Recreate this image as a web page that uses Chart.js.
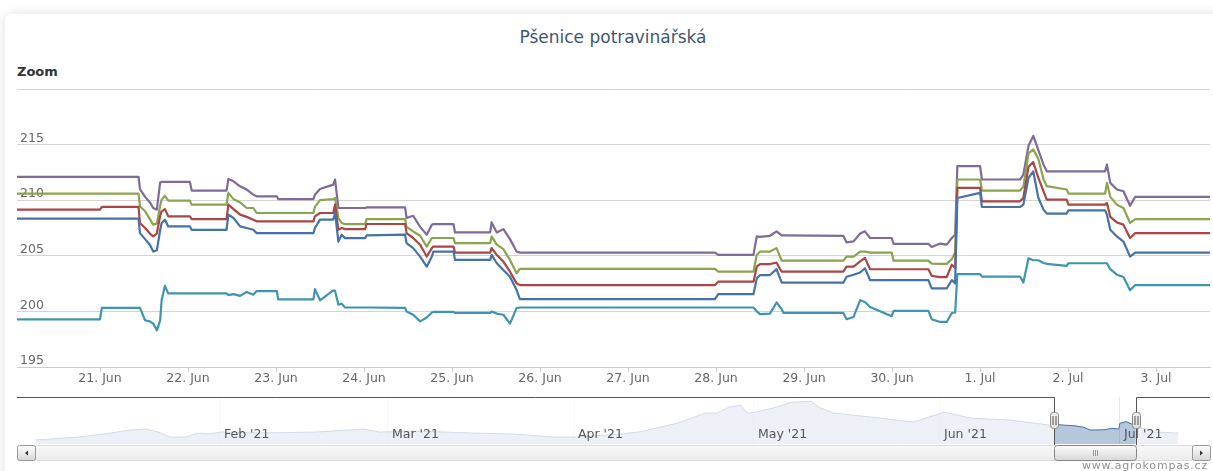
<!DOCTYPE html>
<html lang="cs">
<head>
<meta charset="utf-8">
<title>Pšenice potravinářská</title>
<script src="https://cdn.jsdelivr.net/npm/chart.js@4.4.1/dist/chart.umd.min.js"></script>
<style>
  html, body { margin: 0; padding: 0; }
  body { width: 1213px; height: 471px; overflow: hidden; background: #fff; position: relative; font-family: "DejaVu Sans", sans-serif; }
  .card { position: absolute; left: 5px; top: 14px; width: 1240px; height: 500px; background: #fff; border-radius: 6px; box-shadow: 0 0 12px rgba(0,0,0,0.13); }
  .title { position: absolute; left: 0; top: 27px; width: 1226px; text-align: center; font-size: 17px; line-height: 20px; color: #3E576F; }
  .zoom-label { position: absolute; left: 17px; top: 64px; font-size: 13px; font-weight: bold; color: #333; }
  canvas { position: absolute; left: 0; }
  #mainChart { top: 0; }
  #navChart { top: 390px; }
  .credits { position: absolute; right: 5px; top: 459px; font-size: 11px; letter-spacing: .8px; color: #909090; }
</style>
</head>
<body>
<div class="card"></div>
<div class="title">Pšenice potravinářská</div>
<div class="zoom-label">Zoom</div>
<canvas id="mainChart" width="1213" height="395"></canvas>
<canvas id="navChart" width="1213" height="81"></canvas>
<div class="credits">www.agrokompas.cz</div>

<script>
// ── DATA ────────────────────────────────────────────────────────────────────
// hours counted from 20. Jun 2021 00:00
const hours = [1.3, 24.0, 24.5, 34.5, 34.9, 36.3, 37.6, 38.5, 39.5, 40.4,
  40.8, 41.7, 42.6, 48.5, 49.0, 58.5, 59.0, 60.4, 62.2, 64.0,
  65.8, 66.7, 72.2, 72.6, 82.2, 82.6, 84.0, 87.6, 88.1, 89.0,
  89.9, 90.8, 96.3, 96.7, 107.2, 107.6, 109.4, 111.3, 113.1, 114.5,
  114.9, 120.4, 120.8, 130.4, 130.8, 132.2, 134.0, 135.8, 137.6, 138.5,
  191.7, 192.6, 202.2, 203.1, 204.0, 206.7, 208.5, 209.9, 210.4, 226.7,
  227.6, 229.5, 231.3, 232.6, 234.0, 239.9, 240.4, 249.9, 250.8, 253.1,
  254.9, 256.3, 257.2, 257.8, 264.0, 264.5, 274.9, 275.8, 277.2, 278.5,
  279.9, 281.3, 282.2, 287.6, 288.1, 298.1, 298.6, 299.5, 301.3, 303.1,
  304.9, 306.3, 326.7];

const priceBlue = [208.34, 208.34, 208.34, 208.34, 207.04, 206.5, 205.99, 205.38, 205.5, 207.3,
  207.95, 208.25, 207.64, 207.64, 207.34, 207.34, 208.7, 208.4, 207.64, 207.5,
  207.34, 207.04, 207.04, 207.04, 207.04, 207.5, 208.25, 208.25, 208.85, 206.28,
  206.9, 206.59, 206.59, 206.83, 206.9, 206.14, 205.69, 204.93, 204.02, 204.93,
  205.38, 205.38, 204.63, 204.63, 205.08, 204.33, 203.73, 203.12, 201.92, 201.1,
  201.1, 201.55, 201.55, 202.97, 203.27, 203.27, 203.8, 202.58, 202.58, 202.58,
  203.12, 203.3, 203.5, 203.88, 202.82, 202.82, 202.82, 202.82, 202.07, 202.07,
  202.07, 202.82, 202.52, 210.2, 210.66, 209.39, 209.39, 209.6, 212.0, 212.6,
  210.2, 209.15, 208.79, 208.79, 209.09, 209.09, 208.7, 207.34, 206.74, 206.28,
  204.93, 205.29, 205.29];

const priceRed = [209.15, 209.15, 209.4, 209.4, 207.95, 207.5, 207.0, 206.74, 207.0, 208.6,
  209.0, 209.2, 208.55, 208.55, 208.3, 208.3, 209.6, 209.2, 208.7, 208.5,
  208.25, 208.1, 208.1, 208.1, 208.1, 208.55, 208.85, 208.85, 209.6, 207.34,
  207.5, 207.4, 207.4, 207.86, 207.86, 207.04, 206.6, 205.99, 204.93, 205.69,
  205.83, 205.83, 205.29, 205.29, 205.69, 205.08, 204.48, 203.57, 202.52, 202.37,
  202.37, 202.67, 202.67, 204.02, 204.26, 204.26, 204.38, 203.57, 203.57, 203.57,
  204.02, 204.02, 204.5, 204.8, 203.79, 203.79, 203.79, 203.79, 203.2, 203.09,
  203.09, 204.2, 203.9, 211.1, 211.1, 209.9, 209.9, 210.2, 213.0, 213.43,
  212.0, 210.8, 210.05, 210.05, 209.6, 209.6, 209.75, 208.5, 208.0, 207.8,
  206.6, 207.04, 207.04];

const priceGreen = [210.6, 210.6, 210.6, 210.6, 209.45, 209.0, 208.3, 207.8, 207.9, 209.5,
  210.05, 210.4, 209.96, 209.96, 209.6, 209.6, 210.66, 210.1, 209.8, 209.3,
  209.3, 208.85, 208.85, 208.85, 208.85, 209.4, 210.0, 210.1, 210.2, 208.4,
  207.95, 207.85, 207.85, 208.3, 208.3, 207.6, 207.19, 206.8, 205.83, 206.6,
  206.6, 206.6, 206.14, 206.14, 206.74, 206.0, 205.6, 204.63, 203.43, 203.82,
  203.82, 203.57, 203.57, 205.08, 205.38, 205.38, 205.69, 204.56, 204.56, 204.56,
  204.93, 204.93, 205.38, 205.38, 205.29, 205.29, 204.56, 204.56, 204.3, 204.27,
  204.27, 204.7, 205.3, 211.86, 211.86, 210.87, 210.87, 211.2, 214.2, 214.57,
  213.7, 211.86, 211.26, 210.96, 210.6, 210.6, 211.56, 210.3, 209.6, 209.3,
  207.95, 208.3, 208.3];

const pricePurple = [212.1, 212.1, 212.1, 212.1, 211.0, 210.3, 209.8, 209.3, 209.15, 211.6,
  211.65, 211.65, 211.65, 211.65, 210.87, 210.87, 211.9, 211.7, 211.25, 210.96,
  210.5, 210.35, 210.35, 210.1, 210.1, 210.5, 211.0, 211.4, 211.86, 209.3,
  209.3, 209.3, 209.3, 209.35, 209.35, 208.4, 208.6, 207.6, 206.9, 207.8,
  207.85, 207.85, 207.1, 207.1, 208.0, 207.1, 207.4, 206.5, 205.38, 205.29,
  205.29, 205.08, 205.08, 206.74, 206.7, 206.8, 207.19, 206.83, 206.83, 206.8,
  206.2, 206.3, 207.0, 207.2, 206.6, 206.6, 206.08, 206.08, 205.8, 206.1,
  206.0, 206.6, 206.9, 213.07, 213.07, 211.86, 211.86, 212.3, 214.9, 215.78,
  214.5, 213.2, 212.6, 212.6, 212.6, 212.6, 213.2, 211.56, 210.96, 210.8,
  209.5, 210.3, 210.3];

const priceTeal = [199.29, 199.29, 200.32, 200.32, 200.32, 199.2, 199.1, 198.9, 198.3, 199.2,
  201.0, 202.3, 201.62, 201.62, 201.62, 201.62, 201.47, 201.55, 201.4, 201.75,
  201.5, 201.83, 201.83, 201.08, 201.08, 202.0, 201.0, 201.9, 201.85, 200.6,
  200.7, 200.35, 200.35, 200.35, 200.32, 200.0, 199.7, 199.1, 199.45, 199.9,
  199.95, 199.95, 199.86, 199.86, 200.0, 199.8, 199.7, 198.9, 200.3, 200.35,
  200.35, 200.35, 200.35, 200.0, 199.75, 199.8, 200.8, 200.2, 199.86, 199.86,
  199.3, 199.5, 201.01, 200.85, 200.4, 199.57, 200.05, 200.05, 199.3, 199.05,
  199.05, 199.86, 199.9, 203.36, 203.36, 203.12, 203.12, 202.6, 204.78, 204.6,
  204.6, 204.35, 204.27, 204.1, 204.33, 204.33, 204.33, 203.8, 203.3, 203.1,
  201.9, 202.37, 202.37];

const dayTickHours  = [24, 48, 72, 96, 120, 144, 168, 192, 216, 240, 264, 288, 312];
const dayTickLabels = ['21. Jun', '22. Jun', '23. Jun', '24. Jun', '25. Jun', '26. Jun', '27. Jun',
                       '28. Jun', '29. Jun', '30. Jun', '1. Jul', '2. Jul', '3. Jul'];
const priceTicks = [195, 200, 205, 210, 215, 220];

// navigator: days counted from 1. Jan 2021
const navDays = [0.3, 7.5, 12.8, 16.0, 18.7, 20.7, 22.7, 25.3, 27.3, 29.2,
  31.2, 37.2, 47.0, 55.0, 57.5, 63.5, 73.3, 80.0, 86.5, 90.5,
  97.7, 100.8, 107.3, 111.8, 113.8, 115.8, 117.8, 119.0, 120.3, 123.7,
  126.2, 129.5, 130.8, 133.3, 139.8, 146.5, 151.7, 156.2, 162.7, 169.2,
  170.5, 172.0, 173.5, 175.0, 176.0, 178.5, 179.5, 180.8, 181.0, 182.0,
  183.0, 183.6, 184.5, 186.8, 190.7];
const navPrices = [188.2, 192.0, 197.2, 201.1, 202.4, 198.5, 192.0, 192.0, 197.2, 195.9,
  198.5, 197.2, 198.5, 202.4, 198.5, 199.8, 197.2, 195.9, 192.0, 192.0,
  195.9, 198.5, 210.1, 223.0, 223.0, 230.7, 233.3, 223.0, 224.3, 230.7,
  237.2, 238.5, 230.7, 223.0, 217.8, 211.4, 224.3, 216.5, 214.0, 207.5,
  208.3, 207.3, 206.6, 204.6, 201.1, 201.5, 203.3, 202.5, 210.0, 212.0,
  208.8, 205.3, 204.0, 198.5, 197.2];
const monthTickDays   = [31, 59, 90, 120, 151, 181];
const monthTickLabels = ["Feb '21", "Mar '21", "Apr '21", "May '21", "Jun '21", "Jul '21"];

// ── CONFIG ──────────────────────────────────────────────────────────────────
const FONT = 'DejaVu Sans';
const X_MIN = 1.36, X_MAX = 326.7;      // visible window, hours
const NAV_MIN = -2.83, NAV_MAX = 196;   // navigator window, days
const JUN20 = 170;                      // 20. Jun as day from 1. Jan
const selStart = JUN20 + X_MIN / 24;
const selEnd   = JUN20 + X_MAX / 24;

const SERIES = [
  { values: priceBlue,   color: '#4572A7' },
  { values: priceRed,    color: '#AA4643' },
  { values: priceGreen,  color: '#89A54E' },
  { values: pricePurple, color: '#80699B' },
  { values: priceTeal,   color: '#3D96AE' },
];

// ── MAIN CHART ──────────────────────────────────────────────────────────────
new Chart(document.getElementById('mainChart'), {
  type: 'line',
  data: {
    datasets: SERIES.map(s => ({
      data: hours.map((h, i) => ({ x: h, y: s.values[i] })),
      borderColor: s.color, borderWidth: 2.2, pointRadius: 0, tension: 0,
      fill: false, borderJoinStyle: 'round', borderCapStyle: 'round',
    })),
  },
  options: {
    responsive: false, animation: false, events: [],
    layout: { padding: { left: 17, right: 3, top: 89, bottom: 0 } },
    plugins: { legend: { display: false }, tooltip: { enabled: false } },
    scales: {
      x: {
        type: 'linear', min: X_MIN, max: X_MAX,
        afterBuildTicks: s => { s.ticks = dayTickHours.map(v => ({ value: v })); },
        afterFit: s => { s.height = 28; },
        grid: { drawOnChartArea: false, drawTicks: true, tickLength: 5, color: '#C0D0E0' },
        border: { color: '#C0D0E0', width: 1 },
        ticks: {
          color: '#666', font: { family: FONT, size: 12.5 }, padding: -1,
          maxRotation: 0, autoSkip: false, callback: (v, i) => dayTickLabels[i],
        },
      },
      y: {
        type: 'linear', min: 195, max: 220,
        afterBuildTicks: s => { s.ticks = priceTicks.map(v => ({ value: v })); },
        afterFit: s => { s.width = 0; },
        grid: { color: '#d4d4d4', drawTicks: false, lineWidth: 1 },
        border: { display: false },
        ticks: {
          mirror: true, padding: 3, labelOffset: -6, color: '#666',
          font: { family: FONT, size: 12.5 },
          callback: v => (v === 220 ? '' : v),
        },
      },
    },
  },
});

// ── NAVIGATOR ───────────────────────────────────────────────────────────────
function roundBox(ctx, x, y, w, h, r, stroke, top, bottom) {
  const g = ctx.createLinearGradient(0, y, 0, y + h);
  g.addColorStop(0, top); g.addColorStop(1, bottom);
  ctx.beginPath();
  ctx.roundRect(Math.round(x) + .5, y + .5, Math.round(w), h, r);
  ctx.fillStyle = g; ctx.fill();
  ctx.strokeStyle = stroke; ctx.lineWidth = 1; ctx.stroke();
}

function arrow(ctx, cx, cy, dir) {
  ctx.beginPath();
  ctx.moveTo(cx - 1.5 * dir, cy);
  ctx.lineTo(cx + 1.5 * dir, cy - 2.5);
  ctx.lineTo(cx + 1.5 * dir, cy + 2.5);
  ctx.closePath();
  ctx.fillStyle = '#333'; ctx.fill();
}

const navigatorDecor = {
  id: 'navigatorDecor',
  afterDatasetsDraw(chart) {
    const { ctx, chartArea: a, scales: { x } } = chart;
    const l = x.getPixelForValue(selStart), r = x.getPixelForValue(selEnd);
    ctx.save();
    ctx.fillStyle = 'rgba(255,255,255,0.75)';
    ctx.fillRect(a.left, a.top, l - a.left, a.bottom - a.top);
    ctx.fillRect(r, a.top, a.right - r, a.bottom - a.top);
    ctx.restore();
  },
  afterDraw(chart) {
    const { ctx, chartArea: a, scales: { x } } = chart;
    const l = Math.round(x.getPixelForValue(selStart));
    const r = Math.round(x.getPixelForValue(selEnd));
    const sbTop = a.bottom + 1, sbH = 15;
    ctx.save();

    // scrollbar track + buttons
    roundBox(ctx, 35, sbTop, 1157, sbH, 0, '#dddddd', '#f9f9f9', '#ececec');
    roundBox(ctx, a.left, sbTop, 18, sbH, 2, '#999', '#ffffff', '#d8d8d8');
    roundBox(ctx, a.right - 18, sbTop, 18, sbH, 2, '#999', '#ffffff', '#d8d8d8');
    arrow(ctx, a.left + 9.5, sbTop + 8, 1);
    arrow(ctx, a.right - 8.5, sbTop + 8, -1);

    // scrollbar thumb with grip
    roundBox(ctx, l, sbTop, r - l, sbH, 3, '#888', '#ffffff', '#d8d8d8');
    const cx = Math.round((l + r) / 2);
    ctx.strokeStyle = '#999';
    [-2, 0, 2].forEach(d => {
      ctx.beginPath(); ctx.moveTo(cx + d + .5, sbTop + 5); ctx.lineTo(cx + d + .5, sbTop + 11); ctx.stroke();
    });

    // outline around the selected range
    ctx.beginPath();
    ctx.moveTo(a.left, a.top + .5);
    ctx.lineTo(l + .5, a.top + .5);
    ctx.lineTo(l + .5, sbTop);
    ctx.moveTo(r + .5, sbTop);
    ctx.lineTo(r + .5, a.top + .5);
    ctx.lineTo(a.right, a.top + .5);
    ctx.strokeStyle = '#555'; ctx.lineWidth = 1; ctx.stroke();

    // handles
    [l, r].forEach(hx => {
      roundBox(ctx, hx - 4, a.top + 15, 8, 16, 3, '#888', '#f2f0f0', '#e2dfe0');
      ctx.strokeStyle = '#555';
      [-1.5, 1.5].forEach(d => {
        ctx.beginPath(); ctx.moveTo(hx + d + .5, a.top + 19); ctx.lineTo(hx + d + .5, a.top + 28); ctx.stroke();
      });
    });
    ctx.restore();
  },
};

new Chart(document.getElementById('navChart'), {
  type: 'line',
  data: {
    datasets: [{
      data: navDays.map((d, i) => ({ x: d, y: navPrices[i] })),
      borderColor: '#4572A7', borderWidth: 1, pointRadius: 0, tension: 0,
      fill: 'start', backgroundColor: 'rgba(69,114,167,0.4)',
    }],
  },
  options: {
    responsive: false, animation: false, events: [],
    layout: { padding: { left: 17, right: 3, top: 7, bottom: 0 } },
    plugins: { legend: { display: false }, tooltip: { enabled: false } },
    scales: {
      x: {
        type: 'linear', min: NAV_MIN, max: NAV_MAX,
        afterBuildTicks: s => { s.ticks = monthTickDays.map(v => ({ value: v })); },
        afterFit: s => { s.height = 27; },
        grid: { color: '#e6e6e6', drawTicks: false },
        border: { display: false },
        ticks: {
          // mirror keeps the month labels inside the navigator strip, z puts them above the mask
          mirror: true, padding: 2, z: 1,
          color: '#555', font: { family: FONT, size: 12.5 },
          align: 'start', labelOffset: 4, maxRotation: 0, autoSkip: false,
          callback: (v, i) => monthTickLabels[i],
        },
      },
      y: { display: false, min: 183, max: 244 },
    },
  },
  plugins: [navigatorDecor],
});
</script>
</body>
</html>
